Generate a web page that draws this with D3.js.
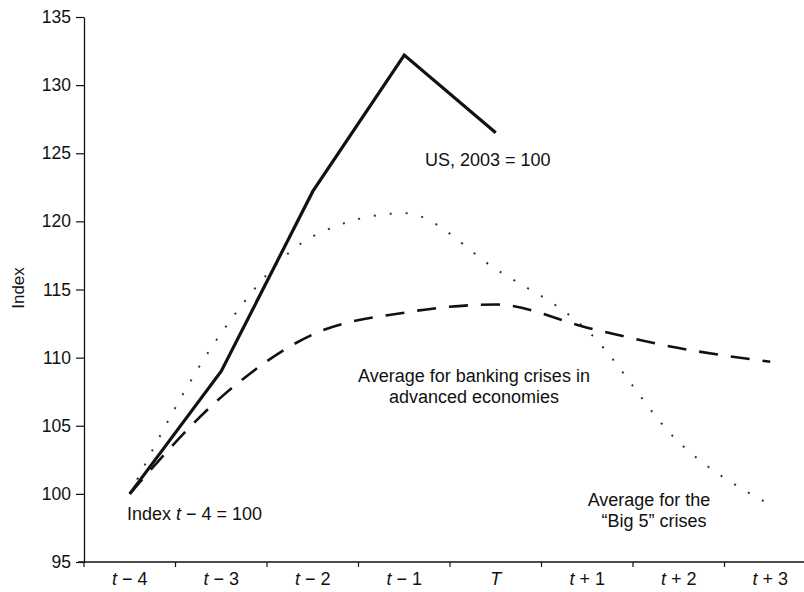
<!DOCTYPE html>
<html>
<head>
<meta charset="utf-8">
<script src="https://cdn.jsdelivr.net/npm/d3@7"></script>
<style>
  html, body { margin: 0; padding: 0; background: #fff; }
  svg { display: block; }
  text { font-family: "Liberation Sans", Arial, Helvetica, sans-serif; fill: #111; }
</style>
</head>
<body>
<svg id="chart" width="804" height="592"></svg>
<script>
// ---- data ----
const categories = ["t − 4", "t − 3", "t − 2", "t − 1", "T", "t + 1", "t + 2", "t + 3"];
const usValues = [100, 109.0, 122.2, 132.2, 126.5];
const big5Values = [100, 111.8, 118.9, 120.6, 116.5, 112.0, 103.8, 99.2];
const advancedValues = [100, 107.1, 111.7, 113.3, 113.9, 112.2, 110.7, 109.7];
const yTicks = [95, 100, 105, 110, 115, 120, 125, 130, 135];

(function () {
// ---- layout ----
const svg = d3.select("#chart");
const mLeft = 84, mBottom = 562, mTop = 17, step = 91.5;
const fs = "18px";

const x = d3.scaleBand().domain(categories).range([mLeft, mLeft + step * categories.length]).padding(0);
const y = d3.scaleLinear().domain([95, 135]).range([mBottom, mTop]);
const cx = d => x(d) + x.bandwidth() / 2;

// y axis
const yAxis = svg.append("g")
  .attr("transform", `translate(${mLeft},0)`)
  .call(d3.axisLeft(y).tickValues(yTicks).tickSize(8).tickPadding(5).tickSizeOuter(0));
yAxis.select(".domain").attr("stroke", "#111").attr("stroke-width", 1.3);
yAxis.selectAll(".tick line").attr("stroke", "#111").attr("stroke-width", 1.2);
yAxis.selectAll(".tick text").style("font-size", "17.5px").attr("fill", "#111");

// x axis (labels centered in bands)
const xAxis = svg.append("g")
  .attr("transform", `translate(0,${mBottom})`)
  .call(d3.axisBottom(x).tickSize(0).tickPadding(10));
xAxis.select(".domain").remove();
xAxis.selectAll(".tick text").style("font-size", fs).attr("fill", "#111")
  .each(function(d) {
    const t = d3.select(this);
    t.text(null);
    t.append("tspan").style("font-style", "italic").text(d.charAt(0));
    if (d.length > 1) t.append("tspan").text(d.slice(1));
  });
// baseline line
svg.append("line")
  .attr("x1", mLeft - 6).attr("x2", 804)
  .attr("y1", mBottom).attr("y2", mBottom)
  .attr("stroke", "#111").attr("stroke-width", 1.4);
// boundary ticks between categories
svg.append("g").selectAll("line")
  .data(categories.slice(1))
  .join("line")
  .attr("x1", d => x(d)).attr("x2", d => x(d))
  .attr("y1", mBottom).attr("y2", mBottom + 5)
  .attr("stroke", "#111").attr("stroke-width", 1.2);
// small tick below the origin
svg.append("line")
  .attr("x1", mLeft).attr("x2", mLeft)
  .attr("y1", mBottom).attr("y2", mBottom + 5)
  .attr("stroke", "#111").attr("stroke-width", 1.2);

// y axis title
svg.append("text")
  .attr("transform", `translate(24,288) rotate(-90)`)
  .attr("text-anchor", "middle")
  .style("font-size", "17px")
  .text("Index");

// ---- lines ----
const lineLinear = d3.line().x((d, i) => cx(categories[i])).y(d => y(d));
const lineSmooth = d3.line().x((d, i) => cx(categories[i])).y(d => y(d)).curve(d3.curveMonotoneX);

svg.append("path")
  .datum(advancedValues)
  .attr("d", lineSmooth)
  .attr("fill", "none")
  .attr("stroke", "#111")
  .attr("stroke-width", 2.6)
  .attr("stroke-dasharray", "19 13");

svg.append("path")
  .datum(big5Values)
  .attr("d", lineSmooth)
  .attr("fill", "none")
  .attr("stroke", "#333")
  .attr("stroke-width", 2)
  .attr("stroke-dasharray", "2 14");

svg.append("path")
  .datum(usValues)
  .attr("d", lineLinear)
  .attr("fill", "none")
  .attr("stroke", "#111")
  .attr("stroke-width", 3.2)
  .attr("stroke-linejoin", "miter");

// ---- annotations ----
const ann = svg.append("g").style("font-size", fs);
ann.append("text").attr("x", 425).attr("y", 166).text("US, 2003 = 100");
ann.append("text").attr("x", 474).attr("y", 382).attr("text-anchor", "middle").text("Average for banking crises in");
ann.append("text").attr("x", 474).attr("y", 403).attr("text-anchor", "middle").text("advanced economies");
ann.append("text").attr("x", 649).attr("y", 506).attr("text-anchor", "middle").text("Average for the");
ann.append("text").attr("x", 654).attr("y", 527).attr("text-anchor", "middle").text("“Big 5” crises");
const idx = ann.append("text").attr("x", 127).attr("y", 520);
idx.append("tspan").text("Index ");
idx.append("tspan").style("font-style", "italic").text("t");
idx.append("tspan").text(" − 4 = 100");
})();
</script>
</body>
</html>
